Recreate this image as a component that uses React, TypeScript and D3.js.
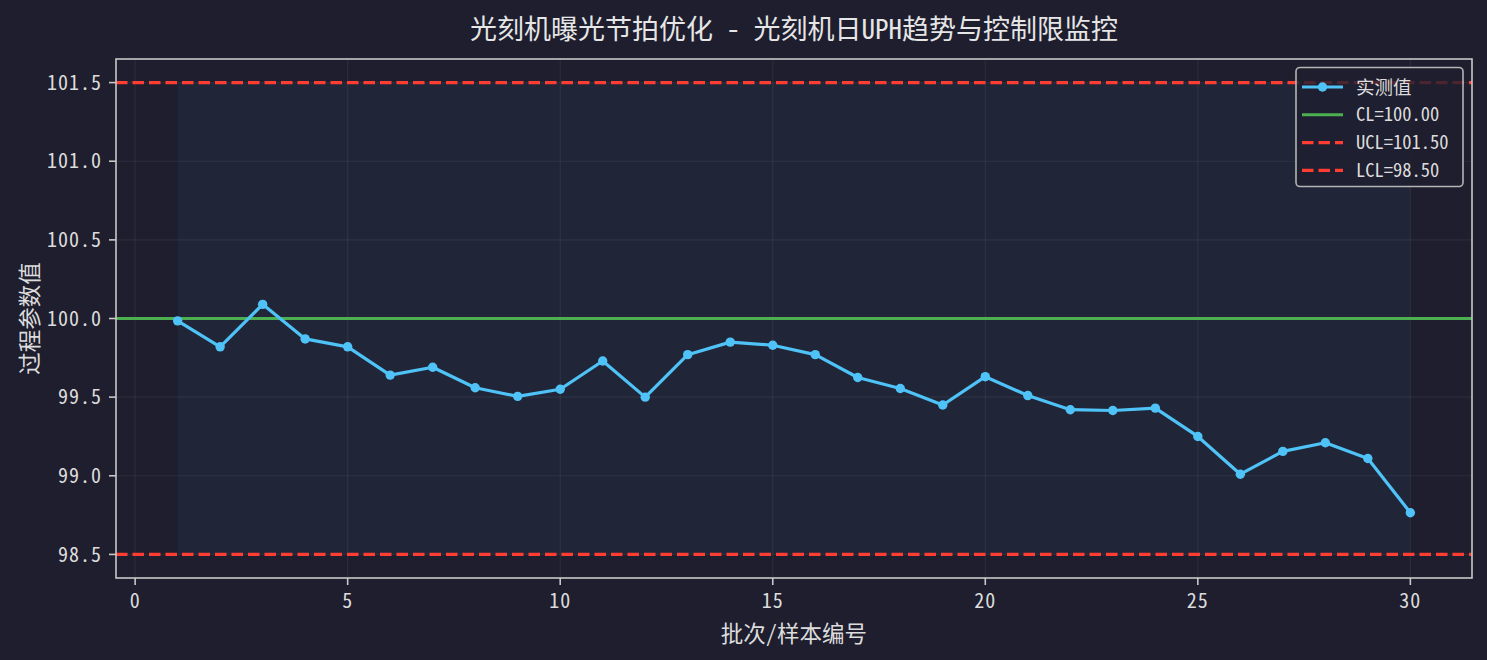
import { useEffect } from 'react';
import * as d3 from 'd3';

const batches = d3.range(1, 31);
const uph = [
  99.985, 99.82, 100.09, 99.87, 99.82, 99.64, 99.69, 99.56, 99.505, 99.55,
  99.73, 99.5, 99.77, 99.85, 99.83, 99.77, 99.625, 99.555, 99.45, 99.63,
  99.51, 99.42, 99.415, 99.43, 99.25, 99.01, 99.155, 99.21, 99.11, 98.765,
];
const CL = 100.0;
const UCL = 101.5;
const LCL = 98.5;
const xTicks = [0, 5, 10, 15, 20, 25, 30];
const yTicks = [98.5, 99.0, 99.5, 100.0, 100.5, 101.0, 101.5];

const title = '光刻机曝光节拍优化 - 光刻机日UPH趋势与控制限监控';
const xLabel = '批次/样本编号';
const yLabel = '过程参数值';
const legendItems = [
  { label: '实测值', kind: 'data' },
  { label: `CL=${CL.toFixed(2)}`, kind: 'cl' },
  { label: `UCL=${UCL.toFixed(2)}`, kind: 'limit' },
  { label: `LCL=${LCL.toFixed(2)}`, kind: 'limit' },
];

const W = 1487;
const H = 660;
const margin = { top: 59, right: 15, bottom: 82, left: 116 };
const FONT = "'Noto Sans Mono CJK SC', 'Noto Sans CJK SC', sans-serif";

const BG = '#1e1e2e';
const LINE = '#4fc3f7';
const GREEN = '#4caf50';
const RED = '#ff3d33';
const SPINE = '#c8c8c8';
const TEXT = '#dcdcdc';

export default function App() {
  useEffect(() => {
    document.body.style.margin = '0';
    document.body.style.background = BG;
  }, []);

  const x0 = margin.left;
  const x1 = W - margin.right;
  const y0 = margin.top;
  const y1 = H - margin.bottom;

  const x = d3.scaleLinear().domain([-0.45, 31.45]).range([x0, x1]);
  const y = d3.scaleLinear().domain([98.35, 101.65]).range([y1, y0]);

  const line = d3
    .line<number>()
    .x((_, i) => x(batches[i]))
    .y((d) => y(d));

  const lgX = 1296;
  const lgY = 67.5;
  const rowH = 27.8;

  return (
    <svg
      width={W}
      height={H}
      style={{ display: 'block', background: BG, fontFamily: FONT }}
    >
      <rect x={0} y={0} width={W} height={H} fill={BG} />
      <rect x={x0} y={y0} width={x1 - x0} height={y1 - y0} fill={BG} />

      {/* control band */}
      <rect
        x={x(1)}
        y={y(UCL)}
        width={x(30) - x(1)}
        height={y(LCL) - y(UCL)}
        fill={LINE}
        opacity={0.05}
      />

      {/* grid */}
      {xTicks.map((t) => (
        <line key={`gx${t}`} x1={x(t)} x2={x(t)} y1={y0} y2={y1} stroke="#ffffff" strokeOpacity={0.06} strokeWidth={1.2} />
      ))}
      {yTicks.map((t) => (
        <line key={`gy${t}`} x1={x0} x2={x1} y1={y(t)} y2={y(t)} stroke="#ffffff" strokeOpacity={0.06} strokeWidth={1.2} />
      ))}

      {/* control limits */}
      <line x1={x0} x2={x1} y1={y(CL)} y2={y(CL)} stroke={GREEN} strokeWidth={3.1} />
      <line x1={x0} x2={x1} y1={y(UCL)} y2={y(UCL)} stroke={RED} strokeWidth={3.1} strokeDasharray="11.5 5" />
      <line x1={x0} x2={x1} y1={y(LCL)} y2={y(LCL)} stroke={RED} strokeWidth={3.1} strokeDasharray="11.5 5" />

      {/* series */}
      <path d={line(uph) ?? ''} fill="none" stroke={LINE} strokeWidth={3.2} strokeLinejoin="round" />
      {uph.map((v, i) => (
        <circle key={i} cx={x(batches[i])} cy={y(v)} r={4.7} fill={LINE} />
      ))}

      {/* spines */}
      <rect x={x0} y={y0} width={x1 - x0} height={y1 - y0} fill="none" stroke={SPINE} strokeWidth={1.6} />

      {/* x axis */}
      {xTicks.map((t) => (
        <g key={`xt${t}`}>
          <line x1={x(t)} x2={x(t)} y1={y1} y2={y1 + 7} stroke={SPINE} strokeWidth={1.6} />
          <text x={x(t)} y={y1 + 15} dy="0.76em" textAnchor="middle" fill={TEXT} fontSize={20} letterSpacing={1}>
            {t}
          </text>
        </g>
      ))}
      {/* y axis */}
      {yTicks.map((t) => (
        <g key={`yt${t}`}>
          <line x1={x0 - 7} x2={x0} y1={y(t)} y2={y(t)} stroke={SPINE} strokeWidth={1.6} />
          <text x={x0 - 14} y={y(t)} dy="0.36em" textAnchor="end" fill={TEXT} fontSize={20} letterSpacing={1}>
            {t.toFixed(1)}
          </text>
        </g>
      ))}

      <text x={(x0 + x1) / 2} y={642} textAnchor="middle" fill={TEXT} fontSize={22.5}>
        {xLabel}
      </text>
      <text
        transform={`translate(38, ${(y0 + y1) / 2}) rotate(-90)`}
        textAnchor="middle"
        fill={TEXT}
        fontSize={22.5}
      >
        {yLabel}
      </text>
      <text x={(x0 + x1) / 2} y={39} textAnchor="middle" fill="#e6e6e6" fontSize={27}>
        {title}
      </text>

      {/* legend */}
      <rect x={lgX} y={lgY} width={167} height={119} rx={4} fill={BG} fillOpacity={0.8} stroke="#b4b4b4" strokeWidth={1.6} />
      {legendItems.map((it, i) => {
        const cy = lgY + 19.5 + i * rowH;
        return (
          <g key={it.label}>
            {it.kind === 'data' && (
              <>
                <line x1={lgX + 6} x2={lgX + 47} y1={cy} y2={cy} stroke={LINE} strokeWidth={3.2} />
                <circle cx={lgX + 26.5} cy={cy} r={4.7} fill={LINE} />
              </>
            )}
            {it.kind === 'cl' && (
              <line x1={lgX + 6} x2={lgX + 47} y1={cy} y2={cy} stroke={GREEN} strokeWidth={3.1} />
            )}
            {it.kind === 'limit' && (
              <line x1={lgX + 6} x2={lgX + 47} y1={cy} y2={cy} stroke={RED} strokeWidth={3.1} strokeDasharray="11.5 5" />
            )}
            <text x={lgX + 60} y={cy} dy="0.36em" fill={TEXT} fontSize={18.5}>
              {it.label}
            </text>
          </g>
        );
      })}
    </svg>
  );
}
